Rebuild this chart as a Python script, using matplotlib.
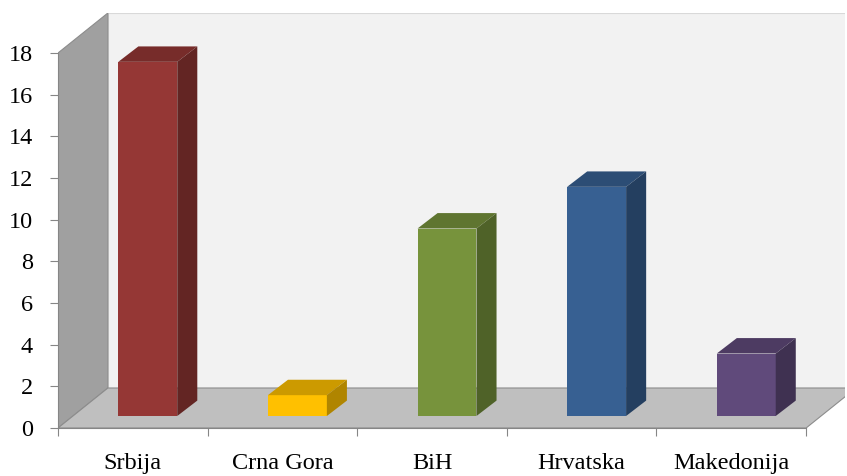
import matplotlib.pyplot as plt
from matplotlib.patches import Polygon
import numpy as np

countries = ['Srbija', 'Crna Gora', 'BiH', 'Hrvatska', 'Makedonija']
values = [17, 1, 9, 11, 3]
front_colors = ['#953735', '#ffc000', '#77933c', '#376092', '#604a7b']
top_colors = ['#772c2a', '#cc9a00', '#5f7530', '#2c4d75', '#4d3b62']
side_colors = ['#632523', '#b08500', '#4f6228', '#243f60', '#3f3151']
yticks = np.arange(0, 19, 2)

# oblique "3d" offsets in data units
wall_dx, wall_dy = 1/3, 1.92
bar_dx, bar_dy = 0.134, 0.74
shift_x, shift_y = 0.1, 0.576
bar_w = 0.394

fig = plt.figure(figsize=(8.47, 4.76), dpi=100)
ax = fig.add_axes([58/847, 48/476, 787/847, 415/476])
ax.set_xlim(0, 5.26)
ax.set_ylim(0, 19.92)

# walls and floor
ax.add_patch(Polygon([(wall_dx, wall_dy), (6, wall_dy), (6, 18 + wall_dy), (wall_dx, 18 + wall_dy)],
                     closed=True, fc='#f2f2f2', ec='#d9d9d9', lw=0.8, zorder=0))
ax.add_patch(Polygon([(0, 0), (0, 18), (wall_dx, 18 + wall_dy), (wall_dx, wall_dy)],
                     closed=True, fc='#a0a0a0', ec='#8c8c8c', lw=0.8, zorder=1))
ax.add_patch(Polygon([(0, 0), (5, 0), (5 + wall_dx, wall_dy), (wall_dx, wall_dy)],
                     closed=True, fc='#bfbfbf', ec='#8c8c8c', lw=0.8, zorder=1))

x = np.arange(len(countries)) + 0.5 + shift_x
bars = ax.bar(x, values, width=bar_w, bottom=shift_y, color=front_colors, zorder=3)
for b, tc, sc in zip(bars, top_colors, side_colors):
    x0, y0 = b.get_x(), b.get_y()
    x1, y1 = x0 + b.get_width(), y0 + b.get_height()
    ax.add_patch(Polygon([(x0, y1), (x1, y1), (x1 + bar_dx, y1 + bar_dy), (x0 + bar_dx, y1 + bar_dy)],
                         closed=True, fc=tc, ec='none', zorder=3))
    ax.add_patch(Polygon([(x1, y0), (x1 + bar_dx, y0 + bar_dy), (x1 + bar_dx, y1 + bar_dy), (x1, y1)],
                         closed=True, fc=sc, ec='none', zorder=3))

for s in ['top', 'right']:
    ax.spines[s].set_visible(False)
ax.spines['left'].set_bounds(0, 18)
ax.spines['bottom'].set_bounds(0, 5)
for s in ['left', 'bottom']:
    ax.spines[s].set_color('#868686')
    ax.spines[s].set_zorder(4)

font = {'family': 'Liberation Serif', 'size': 17.5}
ax.set_yticks(yticks)
ax.set_yticklabels([str(t) for t in yticks], fontdict=font)
ax.set_xticks(np.arange(6))
ax.set_xticklabels([])
ax.set_xticks(np.arange(len(countries)) + 0.5, minor=True)
ax.set_xticklabels(countries, minor=True, fontdict=font)
ax.tick_params(axis='y', length=6, color='#868686', pad=12)
ax.tick_params(axis='x', which='major', length=6, color='#868686')
ax.tick_params(axis='x', which='minor', length=0, pad=18)

fig.savefig('out.png', dpi=100)
